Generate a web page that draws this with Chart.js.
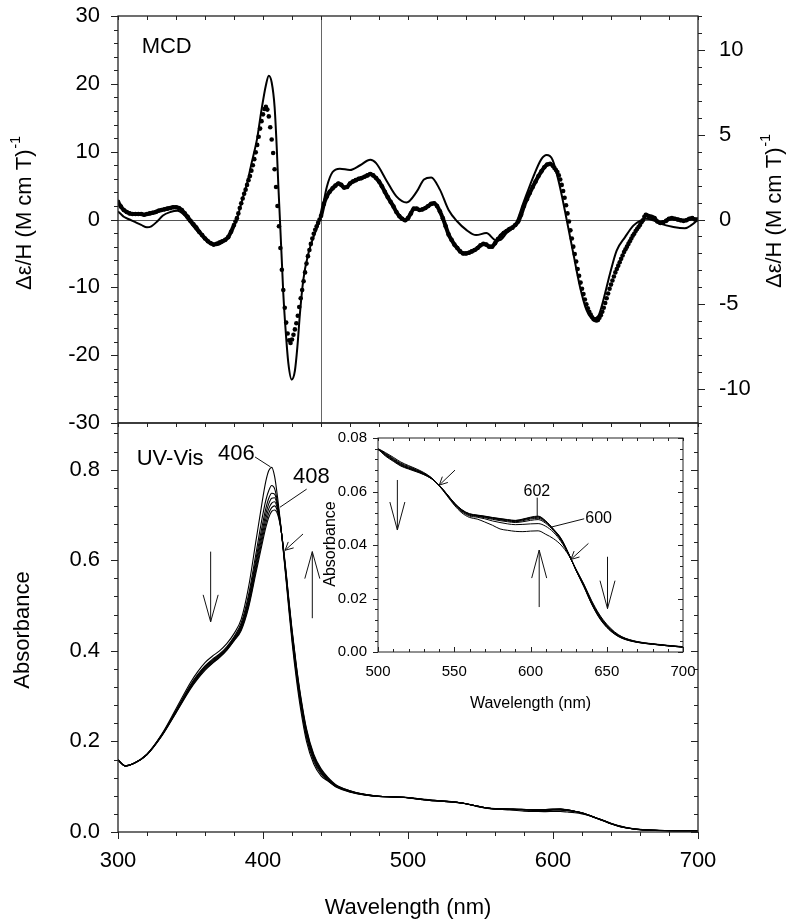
<!DOCTYPE html>
<html><head><meta charset="utf-8">
<script src="https://cdn.jsdelivr.net/npm/chart.js@4"></script>
<style>
html,body{margin:0;padding:0;background:#fff;}
body{width:800px;height:920px;overflow:hidden;position:relative;}
canvas{position:absolute;}
</style></head>
<body>
<canvas id="cTop" width="800" height="480" style="left:0;top:-20px"></canvas>
<canvas id="cBot" width="800" height="530" style="left:0;top:390px"></canvas>
<canvas id="cIns" width="420" height="330" style="left:300px;top:400px"></canvas>
<script>
// ================= DATA =================
// MCD, solid trace (wavelength nm, Δε/H left-axis units)
const mcdSolidWl = [300,302,304,308,312,316,320,323,327,331,336,341,345,350,355,360,365,368,372,376,379,382,385,389,392,396,399,402,404,406,408,409.5,410.6,411.7,413,414,415.6,417.5,419.8,422,423.7,425.5,427.8,431.3,434.8,438,440,444,448,453,460,467,474,478,485,492,499,506,511,516,522,528,534,540,547,554,561,564,568,574,579.5,586.4,592,595.6,599.7,604.8,609.4,614,618.6,623.2,627.8,631.3,634.7,639.3,643.9,649.7,655.4,660,664,669,674,683,691,695.6,700];
const mcdSolid = [1.2,0.8,0.4,0.0,-0.4,-0.8,-1.15,-1.0,-0.3,0.6,1.1,1.3,0.8,-0.5,-1.8,-2.8,-3.5,-3.75,-3.4,-2.6,-1.4,0.0,2.4,5.3,8.2,12.0,16.2,19.8,21.2,20.2,16.6,10.5,4.9,-0.1,-6.2,-10.9,-16.3,-21.2,-23.6,-22.3,-18.8,-13.8,-8.9,-5.0,-2.6,-0.8,0.6,4.8,7.0,7.5,7.3,8.0,8.8,8.3,5.8,3.4,2.5,4.1,5.9,6.2,4.4,1.4,-0.3,-1.5,-2.3,-2.0,-3.1,-3.0,-2.0,-0.8,2.4,6.3,8.9,9.5,8.8,4.8,0.0,-5.0,-9.9,-13.4,-14.6,-14.2,-11.9,-8.0,-4.6,-2.6,-0.9,-0.2,0.1,-0.1,-0.6,-1.1,-1.3,-0.8,0];

// MCD, dotted trace
const mcdDotWl = [
300,302,304,306,308,310,312,314,316,318,320,322,324,326,328,330,332,334,336,338,340,342,344,346,348,350,352,354,356,358,360,362,364,366,368,370,372,374,376,378,380,
381,382,383,384,385,386,387,388,389,390,391,392,393,394,395,396,397,398,399,400,401,402,403,404,405,406,407,408,409,410,411,412,413,414,415,416,417,418,419,420,421,422,423,424,425,426,427,428,429,430,431,432,433,434,435,436,437,438,439,440,
442,444,446,448,450,452,454,456,458,460,462,464,466,468,470,472,474,476,478,480,482,484,486,488,490,492,494,496,498,500,502,504,506,508,510,512,514,516,518,520,522,524,526,528,530,532,534,536,538,540,542,544,546,548,550,552,554,556,558,560,562,564,566,568,570,572,574,576,578,580,582,584,586,588,590,592,594,596,598,
600,601,602,603,604,605,606,607,608,609,610,611,612,613,614,615,616,617,618,619,620,621,622,623,624,625,626,627,628,629,630,631,632,633,634,635,636,637,638,639,640,641,642,643,644,645,646,647,648,649,650,651,652,653,654,655,656,657,658,659,660,661,662,663,664,
666,668,670,672,674,676,678,680,682,684,686,688,690,692,694,696,698,700];
const mcdDot = [
2.6,1.9,1.4,1.1,0.9,0.8,0.8,0.8,0.8,0.7,0.8,0.9,1.0,1.1,1.3,1.4,1.5,1.6,1.7,1.8,1.8,1.7,1.4,0.9,0.4,-0.2,-0.7,-1.2,-1.8,-2.3,-2.8,-3.2,-3.5,-3.7,-3.6,-3.4,-3.2,-3.0,-2.6,-1.8,-0.8,
-0.3,0.2,0.9,1.7,2.4,3.1,3.8,4.4,5.1,5.8,6.4,7.2,8.0,8.9,9.9,11.0,12.2,13.4,14.5,15.5,16.3,16.6,16.2,15.2,13.6,11.8,9.8,7.4,4.8,2.0,-1.0,-4.2,-7.4,-10.4,-13.0,-15.2,-16.8,-17.8,-18.2,-17.7,-17.0,-16.2,-15.3,-14.2,-12.9,-11.6,-10.4,-9.1,-7.8,-6.5,-5.4,-4.5,-3.6,-2.8,-2.1,-1.5,-1.0,-0.5,0.0,0.5,
2.3,3.4,4.1,4.6,5.0,5.3,5.1,4.7,4.8,5.3,5.6,5.8,6.0,6.1,6.3,6.5,6.7,6.5,6.1,5.6,4.9,4.1,3.3,2.6,1.9,1.1,0.5,0.1,-0.1,0.2,0.9,1.6,1.6,1.4,1.5,1.7,2.0,2.3,2.4,2.0,1.2,0.2,-1.0,-2.2,-3.0,-3.7,-4.2,-4.7,-5.0,-5.0,-4.9,-4.7,-4.5,-4.2,-3.8,-3.6,-3.7,-4.0,-4.0,-3.5,-2.9,-2.4,-2.0,-1.7,-1.4,-1.2,-0.8,-0.3,0.7,2.0,3.0,3.9,4.8,5.6,6.4,7.1,7.7,8.1,8.2,
7.9,7.6,7.3,7.0,6.5,5.9,5.1,4.2,3.2,2.1,0.9,-0.3,-1.6,-2.8,-4.0,-5.1,-6.2,-7.3,-8.3,-9.3,-10.2,-11.0,-11.8,-12.5,-13.1,-13.6,-14.0,-14.4,-14.7,-14.8,-14.9,-14.8,-14.5,-14.1,-13.6,-13.0,-12.3,-11.6,-10.9,-10.2,-9.6,-9.0,-8.4,-7.8,-7.3,-6.8,-6.3,-5.8,-5.3,-4.8,-4.4,-4.0,-3.6,-3.2,-2.8,-2.4,-2.1,-1.7,-1.4,-1.1,-0.8,-0.4,-0.1,0.4,0.7,
0.5,0.4,0.2,-0.3,-0.5,-0.4,-0.2,0.1,0.2,0.1,0.0,-0.1,-0.2,-0.1,0.1,0.2,0.0,0.0];

// UV-Vis spectra (7 scans), shared wavelength grid
const uvWl = [300,305,310,320,330,340,350,355,360,365,370,375,380,385,390,395,398,400,402,404,406,408,410,412,414,416,418,420,423,426,430,435,440,445,450,460,470,480,490,500,505,510,515,520,525,530,535,540,545,550,555,560,565,570,575,580,585,590,595,600,605,610,615,620,625,630,635,640,645,650,655,660,670,680,690,700];
const uvScan1 = [0.159,0.146,0.150,0.172,0.215,0.272,0.330,0.354,0.374,0.388,0.400,0.416,0.438,
 0.470,0.540,0.640,0.700,0.740,0.775,0.798,0.805,0.785,0.740,0.685,0.620,0.553,0.485,0.420,0.338,0.270,0.200,0.150,0.124,
 0.112,0.100,0.088,0.082,0.0785,0.0775,0.0760,
 0.0745,0.0728,0.0710,0.0697,0.0685,0.0671,0.0652,
 0.0622,0.0586,0.0549,0.0520,0.0503,
 0.0497,0.0486,0.0474,0.0460,0.0455,0.0451,0.0450,0.0452,0.0453,0.0440,0.0424,0.0400,0.0362,
 0.0308,0.0254,0.0193,0.0142,0.0104,0.0076,0.0057,0.0039,0.0031,0.0025,0.0020];
const uvScan2 = [0.159,0.146,0.150,0.172,0.214,0.268,0.325,0.348,0.367,0.381,0.393,0.409,0.431,
 0.462,0.523,0.612,0.668,0.703,0.733,0.754,0.765,0.758,0.728,0.682,0.623,0.558,0.492,0.428,0.348,0.280,0.208,0.156,0.128,
 0.113,0.101,0.089,0.082,0.0786,0.0775,0.0759,
 0.0742,0.0724,0.0706,0.0694,0.0682,0.0669,0.0651,
 0.0623,0.0588,0.0552,0.0524,0.0508,
 0.0504,0.0498,0.0490,0.0484,0.0479,0.0476,0.0477,0.0479,0.0480,0.0470,0.0448,0.0413,0.0364,
 0.0307,0.0252,0.0190,0.0139,0.0101,0.0074,0.0056,0.0038,0.0030,0.0024,0.0019];
const uvScan3 = [0.159,0.146,0.150,0.172,0.213,0.267,0.323,0.346,0.365,0.379,0.391,0.407,0.429,
 0.457,0.515,0.600,0.652,0.685,0.715,0.737,0.748,0.746,0.723,0.681,0.625,0.561,0.496,0.433,0.353,0.285,0.213,0.160,0.131,
 0.115,0.102,0.089,0.0825,0.0787,0.0775,0.0759,
 0.0740,0.0721,0.0703,0.0691,0.0680,0.0667,0.0650,
 0.0623,0.0589,0.0554,0.0527,0.0511,
 0.0507,0.0502,0.0496,0.0491,0.0487,0.0484,0.0487,0.0492,0.0495,0.0481,0.0454,0.0418,0.0366,
 0.0306,0.0250,0.0187,0.0136,0.0099,0.0072,0.0055,0.0038,0.0030,0.0024,0.0019];
const uvScan4 = [0.159,0.146,0.150,0.171,0.213,0.266,0.321,0.344,0.363,0.377,0.390,0.405,0.427,
 0.454,0.509,0.592,0.641,0.673,0.703,0.725,0.737,0.738,0.718,0.679,0.626,0.564,0.499,0.437,0.357,0.289,0.217,0.163,0.133,
 0.116,0.103,0.090,0.0825,0.0788,0.0775,0.0758,
 0.0738,0.0719,0.0701,0.0689,0.0678,0.0666,0.0649,
 0.0623,0.0590,0.0555,0.0529,0.0513,
 0.0509,0.0504,0.0499,0.0494,0.0490,0.0487,0.0491,0.0497,0.0500,0.0485,0.0456,0.0420,0.0367,
 0.0305,0.0249,0.0185,0.0134,0.0097,0.0071,0.0054,0.0037,0.0030,0.0024,0.0019];
const uvScan5 = [0.159,0.146,0.150,0.171,0.212,0.265,0.319,0.342,0.361,0.375,0.388,0.404,0.425,
 0.451,0.504,0.584,0.632,0.663,0.692,0.714,0.726,0.729,0.713,0.678,0.627,0.567,0.502,0.441,0.361,0.293,0.221,0.166,0.135,
 0.117,0.103,0.090,0.083,0.0789,0.0775,0.0758,
 0.0736,0.0717,0.0699,0.0687,0.0677,0.0665,0.0649,
 0.0624,0.0591,0.0556,0.0530,0.0515,
 0.0510,0.0506,0.0501,0.0496,0.0492,0.0489,0.0494,0.0500,0.0504,0.0487,0.0458,0.0422,0.0367,
 0.0304,0.0247,0.0183,0.0132,0.0095,0.0070,0.0053,0.0037,0.0029,0.0023,0.0018];
const uvScan6 = [0.159,0.146,0.150,0.171,0.212,0.264,0.318,0.340,0.359,0.373,0.386,0.402,0.423,
 0.448,0.499,0.577,0.623,0.654,0.682,0.704,0.716,0.720,0.708,0.677,0.628,0.570,0.505,0.445,0.365,0.297,0.225,0.169,0.138,
 0.118,0.104,0.091,0.083,0.0790,0.0775,0.0757,
 0.0734,0.0715,0.0697,0.0686,0.0676,0.0664,0.0648,
 0.0624,0.0591,0.0557,0.0531,0.0516,
 0.0511,0.0507,0.0502,0.0498,0.0494,0.0491,0.0496,0.0502,0.0506,0.0489,0.0459,0.0424,0.0368,
 0.0303,0.0245,0.0181,0.0130,0.0093,0.0068,0.0052,0.0036,0.0029,0.0023,0.0018];
const uvScan7 = [0.159,0.146,0.150,0.171,0.211,0.263,0.316,0.338,0.357,0.372,0.385,0.401,0.422,
 0.445,0.495,0.570,0.615,0.645,0.673,0.695,0.708,0.711,0.702,0.675,0.630,0.572,0.508,0.448,0.368,0.300,0.228,0.172,0.140,
 0.120,0.105,0.091,0.083,0.0790,0.0775,0.0757,
 0.0732,0.0713,0.0695,0.0684,0.0674,0.0663,0.0648,
 0.0624,0.0592,0.0558,0.0532,0.0517,
 0.0512,0.0508,0.0503,0.0499,0.0495,0.0492,0.0497,0.0504,0.0508,0.0490,0.0460,0.0425,0.0368,
 0.0303,0.0244,0.0180,0.0128,0.0092,0.0067,0.0051,0.0036,0.0029,0.0023,0.0018];
const uvScans = [uvScan1,uvScan2,uvScan3,uvScan4,uvScan5,uvScan6,uvScan7];

// Tick labels
const mcdLeftTicks = [-30,-20,-10,0,10,20,30];
const mcdRightTicks = [-10,-5,0,5,10];
const uvXTicks = [300,400,500,600,700];
const uvYTicks = [0,0.2,0.4,0.6,0.8];
const insXTicks = [500,550,600,650,700];
const insYTicks = [0,0.02,0.04,0.06,0.08];

// ================= RENDERING =================
const FONT = "'Liberation Sans', Arial, Helvetica, sans-serif";
const AX = '#222';
function steps(a, b, s) { const r = []; for (let v = a; v <= b + 1e-9; v += s) r.push(+v.toFixed(6)); return r; }
function pairs(xs, ys) { return xs.map((x, i) => ({x, y: ys[i]})); }
function fixTicks(vals) { return s => { s.ticks = vals.map(v => ({value: v})); }; }

// Decorations (annotation positions in data units, kept outside Chart.js option resolver)
const DECOR = {
  cTop: {
    frameWidth: 1.3,
    refLines: [{scale: 'x', value: 440, color: '#666', width: 1}, {scale: 'y', value: 0, color: '#555', width: 1}],
    ticks: [
      {scale: 'x', edge: 'top', dir: 'in', len: 4, values: steps(300, 700, 20)},
      {scale: 'y', edge: 'left', dir: 'out', len: 7, values: mcdLeftTicks},
      {scale: 'y', edge: 'left', dir: 'out', len: 4, values: steps(-30, 30, 2)},
      {scale: 'y2', edge: 'right', dir: 'out', len: 7, values: mcdRightTicks},
      {scale: 'y2', edge: 'right', dir: 'out', len: 4, values: steps(-12, 12, 1)}
    ],
    labels: [{text: 'MCD', at: [316.3, 24.5], size: 22}],
    titles: [
      {side: 'left', offset: 93, shift: -6.5, size: 22, text: 'Δε/H (M cm T)', sup: '-1'},
      {side: 'right', offset: 77, shift: -8.5, size: 22, text: 'Δε/H (M cm T)', sup: '-1'}
    ]
  },
  cBot: {
    frameWidth: 1.3,
    ticks: [
      {scale: 'x', edge: 'bottom', dir: 'out', len: 7, values: uvXTicks},
      {scale: 'x', edge: 'bottom', dir: 'out', len: 4, values: steps(300, 700, 20)},
      {scale: 'x', edge: 'top', dir: 'in', len: 4, values: steps(300, 700, 20)},
      {scale: 'y', edge: 'left', dir: 'out', len: 7, values: uvYTicks},
      {scale: 'y', edge: 'left', dir: 'out', len: 4, values: steps(0, 0.88, 0.04)},
      {scale: 'y', edge: 'right', dir: 'in', len: 7, values: uvYTicks},
      {scale: 'y', edge: 'right', dir: 'in', len: 4, values: steps(0, 0.88, 0.04)}
    ],
    labels: [
      {text: 'UV-Vis', at: [312.9, 0.810], size: 22},
      {text: '406', at: [369.0, 0.821], size: 22},
      {text: '408', at: [420.7, 0.770], size: 22}
    ],
    leaders: [
      {from: [394.5, 0.828], to: [405.2, 0.806]},
      {from: [430.1, 0.757], to: [411.7, 0.717]}
    ],
    arrows: [
      {from: [363.9, 0.619], to: [363.9, 0.464], head: 27, half: 7.5},
      {from: [434.0, 0.472], to: [434.0, 0.619], head: 27, half: 7.5},
      {from: [427.6, 0.658], to: [415.2, 0.622], head: 8, half: 4}
    ],
    titles: [
      {side: 'left', offset: 95.5, shift: 2.5, size: 22, text: 'Absorbance'},
      {side: 'bottom', offset: 76, shift: 0, size: 22, text: 'Wavelength (nm)'}
    ]
  },
  cIns: {
    frameWidth: 1,
    ticks: [
      {scale: 'x', edge: 'bottom', dir: 'in', len: 5, values: insXTicks},
      {scale: 'x', edge: 'bottom', dir: 'in', len: 3, values: steps(500, 700, 10)},
      {scale: 'x', edge: 'top', dir: 'in', len: 3, values: steps(500, 700, 10)},
      {scale: 'y', edge: 'left', dir: 'out', len: 5, values: insYTicks},
      {scale: 'y', edge: 'left', dir: 'out', len: 3, values: steps(0, 0.08, 0.004)},
      {scale: 'y', edge: 'right', dir: 'in', len: 5, values: insYTicks},
      {scale: 'y', edge: 'right', dir: 'in', len: 3, values: steps(0, 0.08, 0.004)}
    ],
    labels: [
      {text: '602', at: [604.2, 0.0583], size: 16, align: 'center'},
      {text: '600', at: [635.9, 0.0483], size: 16}
    ],
    leaders: [
      {from: [604.4, 0.0577], to: [604.4, 0.0508]},
      {from: [635.2, 0.0498], to: [612.9, 0.0466]}
    ],
    arrows: [
      {from: [512.7, 0.0643], to: [512.7, 0.0456], head: 28, half: 7.5},
      {from: [550.5, 0.0680], to: [540.2, 0.0624], head: 8, half: 4},
      {from: [605.7, 0.0168], to: [605.7, 0.0381], head: 28, half: 7.5},
      {from: [638.0, 0.0406], to: [626.5, 0.0346], head: 8, half: 4},
      {from: [650.5, 0.0356], to: [650.5, 0.0162], head: 28, half: 7.5}
    ],
    titles: [
      {side: 'left', offset: 47, shift: -1, size: 16, text: 'Absorbance'},
      {side: 'bottom', offset: 52, shift: 0, size: 16, text: 'Wavelength (nm)'}
    ]
  }
};

const decor = {
  id: 'decor',
  beforeDatasetsDraw(chart) {
    const o = DECOR[chart.canvas.id]; if (!o) return;
    const {ctx, chartArea: ca} = chart;
    ctx.save();
    (o.refLines || []).forEach(r => {
      const s = chart.scales[r.scale];
      const p = Math.round(s.getPixelForValue(r.value)) + 0.5;
      ctx.strokeStyle = r.color; ctx.lineWidth = r.width;
      ctx.beginPath();
      if (s.isHorizontal()) { ctx.moveTo(p, ca.top); ctx.lineTo(p, ca.bottom); }
      else { ctx.moveTo(ca.left, p); ctx.lineTo(ca.right, p); }
      ctx.stroke();
    });
    ctx.restore();
  },
  afterDraw(chart) {
    const o = DECOR[chart.canvas.id]; if (!o) return;
    const {ctx, chartArea: ca} = chart;
    ctx.save();
    ctx.strokeStyle = AX; ctx.lineWidth = 1;
    (o.ticks || []).forEach(t => {
      const s = chart.scales[t.scale];
      t.values.forEach(v => {
        const p = Math.round(s.getPixelForValue(v)) + 0.5;
        const sg = t.dir === 'out' ? 1 : -1;
        ctx.beginPath();
        if (t.edge === 'bottom') { ctx.moveTo(p, ca.bottom); ctx.lineTo(p, ca.bottom + sg * t.len); }
        else if (t.edge === 'top') { ctx.moveTo(p, ca.top); ctx.lineTo(p, ca.top - sg * t.len); }
        else if (t.edge === 'left') { ctx.moveTo(ca.left, p); ctx.lineTo(ca.left - sg * t.len, p); }
        else { ctx.moveTo(ca.right, p); ctx.lineTo(ca.right + sg * t.len, p); }
        ctx.stroke();
      });
    });
    ctx.lineWidth = o.frameWidth;
    ctx.strokeRect(ca.left, ca.top, ca.right - ca.left, ca.bottom - ca.top);
    const xs = chart.scales.x, ys = chart.scales.y;
    const P = (pt) => [xs.getPixelForValue(pt[0]), ys.getPixelForValue(pt[1])];
    ctx.strokeStyle = '#111'; ctx.lineWidth = 1;
    (o.leaders || []).forEach(l => {
      const a = P(l.from), b = P(l.to);
      ctx.beginPath(); ctx.moveTo(a[0], a[1]); ctx.lineTo(b[0], b[1]); ctx.stroke();
    });
    (o.arrows || []).forEach(ar => {
      const a = P(ar.from), b = P(ar.to);
      const dx = a[0] - b[0], dy = a[1] - b[1], L = Math.hypot(dx, dy);
      const ux = dx / L, uy = dy / L, nx = -uy, ny = ux;
      ctx.beginPath(); ctx.moveTo(a[0], a[1]); ctx.lineTo(b[0], b[1]);
      ctx.moveTo(b[0] + ux * ar.head + nx * ar.half, b[1] + uy * ar.head + ny * ar.half);
      ctx.lineTo(b[0], b[1]);
      ctx.lineTo(b[0] + ux * ar.head - nx * ar.half, b[1] + uy * ar.head - ny * ar.half);
      ctx.stroke();
    });
    ctx.fillStyle = '#000';
    (o.labels || []).forEach(t => {
      const p = P(t.at);
      ctx.font = t.size + 'px ' + FONT;
      ctx.textAlign = t.align || 'left'; ctx.textBaseline = 'alphabetic';
      ctx.fillText(t.text, p[0], p[1]);
    });
    (o.titles || []).forEach(t => {
      let cx, cy, rot = 0;
      if (t.side === 'left') { cx = ca.left - t.offset; cy = (ca.top + ca.bottom) / 2 + t.shift; rot = -Math.PI / 2; }
      else if (t.side === 'right') { cx = ca.right + t.offset; cy = (ca.top + ca.bottom) / 2 + t.shift; rot = -Math.PI / 2; }
      else { cx = (ca.left + ca.right) / 2 + t.shift; cy = ca.bottom + t.offset; }
      ctx.save(); ctx.translate(cx, cy); ctx.rotate(rot);
      ctx.font = t.size + 'px ' + FONT; const w1 = ctx.measureText(t.text).width;
      const ss = Math.round(t.size * 0.62);
      ctx.font = ss + 'px ' + FONT; const w2 = t.sup ? ctx.measureText(t.sup).width + 1 : 0;
      const x0 = -(w1 + w2) / 2;
      ctx.textAlign = 'left'; ctx.textBaseline = 'middle';
      ctx.font = t.size + 'px ' + FONT; ctx.fillText(t.text, x0, 0);
      if (t.sup) { ctx.font = ss + 'px ' + FONT; ctx.fillText(t.sup, x0 + w1 + 1, -t.size * 0.4); }
      ctx.restore();
    });
    ctx.restore();
  }
};
Chart.register(decor);

const baseOpts = {
  responsive: false, animation: false, events: [],
  plugins: {legend: {display: false}, tooltip: {enabled: false}}
};
function yAxis(pos, min, max, ticks, width, size, pad, fmt) {
  return {
    type: 'linear', position: pos, min, max,
    afterBuildTicks: fixTicks(ticks),
    afterFit: s => { s.width = width; },
    grid: {display: false, drawTicks: false}, border: {display: false},
    ticks: {autoSkip: false, color: '#000', padding: pad, font: {family: FONT, size}, callback: fmt || (v => String(v))}
  };
}

// ---------- Top: MCD ----------
new Chart(document.getElementById('cTop'), {
  type: 'line',
  data: {datasets: [
    {data: pairs(mcdSolidWl, mcdSolid), borderColor: '#000', borderWidth: 2, pointRadius: 0, cubicInterpolationMode: 'monotone'},
    {data: pairs(mcdDotWl, mcdDot), borderColor: '#000', borderWidth: 4, pointRadius: 2.3, pointBorderWidth: 0,
     pointBackgroundColor: '#000', cubicInterpolationMode: 'monotone',
     segment: {borderColor: c => (c.p1.x - c.p0.x) < 2 ? 'rgba(0,0,0,0)' : '#000'}}
  ]},
  options: Object.assign({}, baseOpts, {
    layout: {padding: {top: 36, bottom: 37, left: 0, right: 0}},
    scales: {
      x: {type: 'linear', min: 300, max: 700, display: false},
      y: yAxis('left', -30, 30, mcdLeftTicks, 118, 22, 18),
      y2: yAxis('right', -12, 12, mcdRightTicks, 102, 22, 21)
    }
  })
});

// ---------- Bottom: UV-Vis ----------
const uvSets = uvScans.map(s => ({data: pairs(uvWl, s), borderColor: '#000', borderWidth: 1.1, pointRadius: 0, cubicInterpolationMode: 'monotone'}));
new Chart(document.getElementById('cBot'), {
  type: 'line',
  data: {datasets: uvSets},
  options: Object.assign({}, baseOpts, {
    layout: {padding: {top: 33, bottom: 0, left: 0, right: 0}},
    scales: {
      x: {type: 'linear', position: 'bottom', min: 300, max: 700,
          afterBuildTicks: fixTicks(uvXTicks), afterFit: s => { s.height = 88; },
          grid: {display: false, drawTicks: false}, border: {display: false},
          ticks: {autoSkip: false, maxRotation: 0, color: '#000', padding: 16, font: {family: FONT, size: 22}}},
      y: yAxis('left', 0, 0.903, uvYTicks, 118, 22, 18, v => v.toFixed(1)),
      y2: Object.assign(yAxis('right', 0, 0.903, uvYTicks, 102, 22, 10), {ticks: {display: false}})
    }
  })
});

// ---------- Inset: UV-Vis 500-700 nm ----------
const insSets = uvScans.map(s => ({data: pairs(uvWl, s), borderColor: '#000', borderWidth: 1, pointRadius: 0, cubicInterpolationMode: 'monotone'}));
new Chart(document.getElementById('cIns'), {
  type: 'line',
  data: {datasets: insSets},
  options: Object.assign({}, baseOpts, {
    layout: {padding: {top: 38, bottom: 0, left: 0, right: 37}},
    scales: {
      x: {type: 'linear', position: 'bottom', min: 500, max: 700,
          afterBuildTicks: fixTicks(insXTicks), afterFit: s => { s.height = 78; },
          grid: {display: false, drawTicks: false}, border: {display: false},
          ticks: {autoSkip: false, maxRotation: 0, color: '#000', padding: 11, font: {family: FONT, size: 15}}},
      y: yAxis('left', 0, 0.08, insYTicks, 78, 15, 11, v => v.toFixed(2))
    }
  })
});
</script>
</body></html>
